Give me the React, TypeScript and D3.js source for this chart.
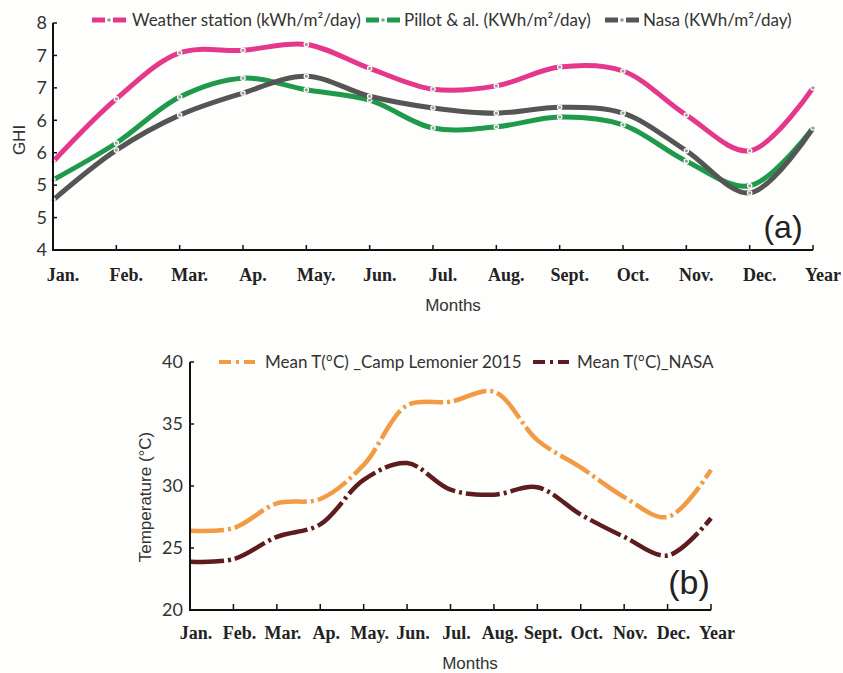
import { useMemo } from 'react'
import * as d3 from 'd3'

const WIDTH = 843
const HEIGHT = 673

const MONTHS = ['Jan.', 'Feb.', 'Mar.', 'Ap.', 'May.', 'Jun.', 'Jul.', 'Aug.', 'Sept.', 'Oct.', 'Nov.', 'Dec.', 'Year']

// panel (a) - GHI
const GHI_TICKS = [4, 4.5, 5, 5.5, 6, 6.5, 7, 7.5]
const WEATHER_STATION = [5.36, 6.33, 7.04, 7.08, 7.17, 6.8, 6.48, 6.53, 6.82, 6.76, 6.08, 5.53, 6.5]
const PILLOT = [5.08, 5.65, 6.36, 6.65, 6.47, 6.31, 5.88, 5.9, 6.05, 5.93, 5.37, 4.99, 5.88]
const NASA_GHI = [4.77, 5.54, 6.08, 6.42, 6.68, 6.37, 6.19, 6.11, 6.2, 6.11, 5.53, 4.88, 5.88]

// panel (b) - temperature
const TEMP_TICKS = [20, 25, 30, 35, 40]
const CAMP_LEMONIER = [26.4, 26.6, 28.6, 28.95, 31.7, 36.5, 36.8, 37.6, 33.7, 31.5, 29.1, 27.5, 31.3]
const NASA_TEMP = [23.9, 24.1, 25.9, 26.9, 30.5, 31.85, 29.7, 29.3, 29.9, 27.7, 25.9, 24.4, 27.4]

const GHI_SERIES = [
  { name: 'Weather station (kWh/m²/day)', values: WEATHER_STATION, color: '#e5378c', lx: 92, tx: 132 },
  { name: 'Pillot & al. (KWh/m²/day)', values: PILLOT, color: '#1f9a4b', lx: 366, tx: 404 },
  { name: 'Nasa (KWh/m²/day)', values: NASA_GHI, color: '#555555', lx: 605, tx: 643 }
]

const TEMP_SERIES = [
  { name: 'Mean T(°C) _Camp Lemonier 2015', values: CAMP_LEMONIER, color: '#f39a45', lx: 219, tx: 265 },
  { name: 'Mean T(°C)_NASA', values: NASA_TEMP, color: '#5e1c1e', lx: 533, tx: 577 }
]

const SANS = 'Lato, "Open Sans", sans-serif'
const SERIF = '"Liberation Serif", "DejaVu Serif", serif'
const ARIAL = '"Liberation Sans", Arial, sans-serif'

export default function App() {
  const xTop = useMemo(() => d3.scalePoint<string>().domain(MONTHS).range([53, 813]), [])
  const yTop = useMemo(() => d3.scaleLinear().domain([4, 7.5]).range([250, 23]), [])
  const xBot = useMemo(() => d3.scalePoint<string>().domain(MONTHS).range([190, 711]), [])
  const yBot = useMemo(() => d3.scaleLinear().domain([20, 40]).range([610, 362]), [])

  const lineTop = d3.line<number>()
    .x((_, i) => xTop(MONTHS[i]) as number)
    .y(d => yTop(d))
    .curve(d3.curveCatmullRom.alpha(0.5))

  const lineBot = d3.line<number>()
    .x((_, i) => xBot(MONTHS[i]) as number)
    .y(d => yBot(d))
    .curve(d3.curveCatmullRom.alpha(0.5))

  return (
    <div style={{ position: 'absolute', left: 0, top: 0 }}>
      <svg width={WIDTH} height={HEIGHT} style={{ display: 'block', background: '#fefefc' }}>
        {/* ---------- panel (a) ---------- */}
        <g>
          {/* Legend */}
          {GHI_SERIES.map(s => (
            <g key={s.name}>
              <line x1={s.lx} x2={s.lx + 13} y1={20} y2={20} stroke={s.color} strokeWidth={5} />
              <circle cx={s.lx + 17} cy={20} r={1.8} fill="#999" />
              <line x1={s.lx + 21} x2={s.lx + 34} y1={20} y2={20} stroke={s.color} strokeWidth={5} />
              <text x={s.tx} y={20} dy="0.35em" fontFamily={SANS} fontSize={17} fill="#333">{s.name}</text>
            </g>
          ))}

          {/* Lines */}
          {GHI_SERIES.map(s => (
            <g key={s.name}>
              <path d={lineTop(s.values) ?? ''} fill="none" stroke={s.color} strokeWidth={5} />
              {s.values.map((v, i) => (
                <circle key={i} cx={xTop(MONTHS[i])} cy={yTop(v)} r={2.2} fill="#9a9a9a" stroke="#fefefc" strokeWidth={1.2} />
              ))}
            </g>
          ))}

          {/* Axes */}
          <line x1={53} x2={53} y1={23} y2={250} stroke="#111" strokeWidth={2} />
          <line x1={52} x2={813} y1={250} y2={250} stroke="#111" strokeWidth={2} />
          {GHI_TICKS.map(t => (
            <g key={t}>
              <line x1={53} x2={57} y1={yTop(t)} y2={yTop(t)} stroke="#111" strokeWidth={1.5} />
              <text x={47} y={yTop(t)} dy="0.35em" textAnchor="end" fontFamily={SANS} fontSize={18} fill="#333">
                {Math.round(t)}
              </text>
            </g>
          ))}
          {MONTHS.map(m => (
            <g key={m}>
              <line x1={xTop(m)} x2={xTop(m)} y1={250} y2={245} stroke="#111" strokeWidth={1.5} />
              <text x={(xTop(m) as number) + 10} y={275} dy="0.35em" textAnchor="middle" fontFamily={SERIF} fontWeight="bold" fontSize={18} fill="#222">
                {m}
              </text>
            </g>
          ))}
          <text transform="translate(19,140) rotate(-90)" textAnchor="middle" fontFamily={ARIAL} fontSize={17} fill="#333" dy="0.35em">GHI</text>
          <text x={453} y={305} textAnchor="middle" fontFamily={ARIAL} fontSize={17} fill="#333" dy="0.35em">Months</text>
          <text x={783} y={227} textAnchor="middle" fontFamily={ARIAL} fontSize={32} fill="#222" dy="0.35em">(a)</text>
        </g>

        {/* ---------- panel (b) ---------- */}
        <g>
          {TEMP_SERIES.map(s => (
            <g key={s.name}>
              <line x1={s.lx} x2={s.lx + 36} y1={362} y2={362} stroke={s.color} strokeWidth={4} strokeDasharray="12,5,3,5" />
              <text x={s.tx} y={362} dy="0.35em" fontFamily={SANS} fontSize={17} fill="#333">{s.name}</text>
            </g>
          ))}

          {TEMP_SERIES.map(s => (
            <path key={s.name} d={lineBot(s.values) ?? ''} fill="none" stroke={s.color} strokeWidth={4.5} strokeDasharray="34,4,3,4" />
          ))}

          <line x1={190} x2={190} y1={362} y2={610} stroke="#111" strokeWidth={2} />
          <line x1={189} x2={711} y1={610} y2={610} stroke="#111" strokeWidth={2} />
          {TEMP_TICKS.map(t => (
            <g key={t}>
              <line x1={190} x2={194} y1={yBot(t)} y2={yBot(t)} stroke="#111" strokeWidth={1.5} />
              <text x={183} y={yBot(t)} dy="0.35em" textAnchor="end" fontFamily={SANS} fontSize={18} fill="#333">{t}</text>
            </g>
          ))}
          {MONTHS.map(m => (
            <g key={m}>
              <line x1={xBot(m)} x2={xBot(m)} y1={610} y2={604} stroke="#111" strokeWidth={1.5} />
              <text x={(xBot(m) as number) + 6} y={633} dy="0.35em" textAnchor="middle" fontFamily={SERIF} fontWeight="bold" fontSize={18} fill="#222">
                {m}
              </text>
            </g>
          ))}
          <text transform="translate(145,497) rotate(-90)" textAnchor="middle" fontFamily={ARIAL} fontSize={17} fill="#333" dy="0.35em">Temperature (°C)</text>
          <text x={470} y={663} textAnchor="middle" fontFamily={ARIAL} fontSize={17} fill="#333" dy="0.35em">Months</text>
          <text x={689} y={582} textAnchor="middle" fontFamily={ARIAL} fontSize={34} fill="#222" dy="0.35em">(b)</text>
        </g>
      </svg>
    </div>
  )
}
